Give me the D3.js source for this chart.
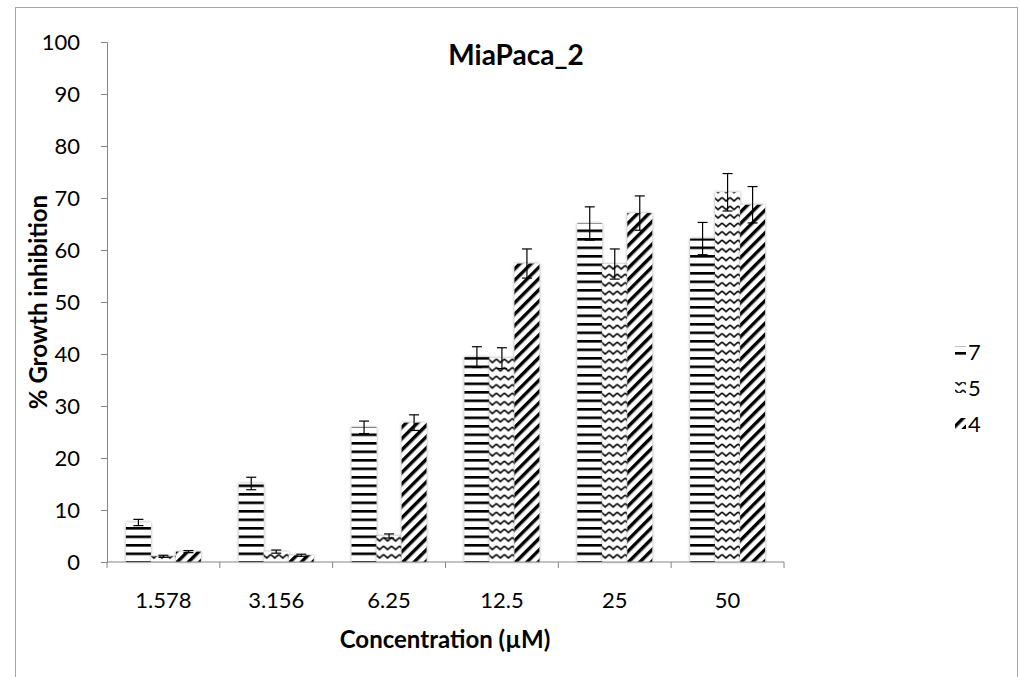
<!DOCTYPE html>
<html>
<head>
<meta charset="utf-8">
<script src="https://cdn.jsdelivr.net/npm/d3@7"></script>
<style>
  body { margin: 0; background: #fff; }
  svg text { font-family: Lato, "Open Sans", sans-serif; fill: #000; }
</style>
</head>
<body>
<svg id="chart" width="1019" height="677"></svg>
<script>
const concentrations = ['1.578', '3.156', '6.25', '12.5', '25', '50']
const seriesNames = ['7', '5', '4']
const values7 = [7.6, 15.1, 25.9, 39.4, 65.1, 62.2]
const errors7 = [0.6, 1.2, 1.2, 2.0, 3.2, 3.1]
const values5 = [1.1, 2.0, 5.0, 39.2, 57.3, 71.1]
const errors5 = [0.2, 0.3, 0.4, 2.0, 2.9, 3.6]
const values4 = [2.0, 1.3, 26.8, 57.4, 67.1, 68.7]
const errors4 = [0.2, 0.2, 1.5, 2.8, 3.3, 3.5]
const yTicks = [0, 10, 20, 30, 40, 50, 60, 70, 80, 90, 100]

const seriesValues = [values7, values5, values4]
const seriesErrors = [errors7, errors5, errors4]
const patternIds = ['pat-horiz', 'pat-wave', 'pat-diag']

const svg = d3.select('#chart')
const axisColor = '#868686'

// chart border
svg.append('rect')
    .attr('x', 15.5).attr('y', 7.5)
    .attr('width', 1002).attr('height', 700)
    .attr('fill', 'none')
    .attr('stroke', '#a6a6a6')

const defs = svg.append('defs')

// horizontal stripes
const ph = defs.append('pattern')
    .attr('id', 'pat-horiz')
    .attr('patternUnits', 'userSpaceOnUse')
    .attr('width', 8).attr('height', 8.5)
ph.append('rect').attr('width', 8).attr('height', 8.5).attr('fill', '#fff')
ph.append('rect').attr('y', 0).attr('width', 8).attr('height', 2.6).attr('fill', '#000')

// zigzag waves
const pw = defs.append('pattern')
    .attr('id', 'pat-wave')
    .attr('patternUnits', 'userSpaceOnUse')
    .attr('width', 8).attr('height', 8.5)
pw.append('rect').attr('width', 8).attr('height', 8.5).attr('fill', '#fff')
pw.append('path')
    .attr('d', 'M0,2 L4,5.5 L8,2')
    .attr('fill', 'none')
    .attr('stroke', '#000')
    .attr('stroke-width', 1.6)

// wide upward diagonal
const pd = defs.append('pattern')
    .attr('id', 'pat-diag')
    .attr('patternUnits', 'userSpaceOnUse')
    .attr('width', 8).attr('height', 8)
    .attr('patternTransform', 'rotate(45)')
pd.append('rect').attr('width', 8).attr('height', 8).attr('fill', '#fff')
pd.append('rect').attr('width', 3.4).attr('height', 8).attr('fill', '#000')

const shadow = defs.append('filter')
    .attr('id', 'shadow')
    .attr('x', '-30%').attr('y', '-10%')
    .attr('width', '160%').attr('height', '120%')
shadow.append('feDropShadow')
    .attr('dx', 0).attr('dy', 0)
    .attr('stdDeviation', 1.6)
    .attr('flood-color', '#777')
    .attr('flood-opacity', 0.7)

const x0 = d3.scaleBand()
    .domain(concentrations)
    .range([107, 784])
    .paddingInner(0.335)
    .paddingOuter(0.1675)

const x1 = d3.scaleBand()
    .domain(seriesNames)
    .range([0, x0.bandwidth()])

const y = d3.scaleLinear()
    .domain([0, 100])
    .range([562, 42])

// bars
const groups = svg.append('g')
    .selectAll('g')
    .data(concentrations)
    .enter()
    .append('g')
    .attr('transform', d => `translate(${x0(d)},0)`)

groups.selectAll('rect')
    .data((d, i) => seriesNames.map((s, k) => ({ s, k, v: seriesValues[k][i], e: seriesErrors[k][i] })))
    .enter()
    .append('rect')
    .attr('x', d => x1(d.s))
    .attr('width', x1.bandwidth())
    .attr('y', d => y(d.v))
    .attr('height', d => y(0) - y(d.v))
    .attr('fill', d => `url(#${patternIds[d.k]})`)
    .attr('filter', 'url(#shadow)')

// error bars
const err = groups.selectAll('g.err')
    .data((d, i) => seriesNames.map((s, k) => ({ s, k, v: seriesValues[k][i], e: seriesErrors[k][i] })))
    .enter()
    .append('g')
    .attr('class', 'err')
    .attr('stroke', '#000')
    .attr('stroke-width', 1.2)

err.append('line')
    .attr('x1', d => x1(d.s) + x1.bandwidth() / 2)
    .attr('x2', d => x1(d.s) + x1.bandwidth() / 2)
    .attr('y1', d => y(d.v - d.e))
    .attr('y2', d => y(d.v + d.e))
err.selectAll('line.cap')
    .data(d => [d.v - d.e, d.v + d.e].map(t => ({ s: d.s, t })))
    .enter()
    .append('line')
    .attr('class', 'cap')
    .attr('x1', d => x1(d.s) + x1.bandwidth() / 2 - 5)
    .attr('x2', d => x1(d.s) + x1.bandwidth() / 2 + 5)
    .attr('y1', d => y(d.t))
    .attr('y2', d => y(d.t))

// y axis
const yAxis = svg.append('g')
    .attr('transform', 'translate(107,0)')
    .call(d3.axisLeft(y).tickValues(yTicks).tickSize(6).tickPadding(21))
yAxis.selectAll('path, line').attr('stroke', axisColor)
yAxis.selectAll('text').style('font-size', '22px')

// x axis
const xAxis = svg.append('g')
    .attr('transform', `translate(0,${y(0)})`)
xAxis.append('line')
    .attr('x1', 107).attr('x2', 784)
    .attr('stroke', axisColor)
xAxis.selectAll('line.tick')
    .data(d3.range(concentrations.length + 1))
    .enter()
    .append('line')
    .attr('class', 'tick')
    .attr('x1', i => 107 + i * x0.step())
    .attr('x2', i => 107 + i * x0.step())
    .attr('y1', 0).attr('y2', 6)
    .attr('stroke', axisColor)
xAxis.selectAll('text')
    .data(concentrations)
    .enter()
    .append('text')
    .attr('x', d => x0(d) + x0.bandwidth() / 2)
    .attr('y', 46)
    .attr('text-anchor', 'middle')
    .style('font-size', '22px')
    .text(d => d)

// titles
svg.append('text')
    .attr('x', 516).attr('y', 65)
    .attr('text-anchor', 'middle')
    .style('font-size', '28px').style('font-weight', 'bold')
    .text('MiaPaca_2')

svg.append('text')
    .attr('x', 445).attr('y', 648)
    .attr('text-anchor', 'middle')
    .style('font-size', '24px').style('font-weight', 'bold')
    .text('Concentration (µM)')

svg.append('text')
    .attr('transform', 'translate(47,302) rotate(-90)')
    .attr('text-anchor', 'middle')
    .style('font-size', '24px').style('font-weight', 'bold')
    .text('% Growth inhibition')

// legend
const legend = svg.append('g')
    .selectAll('g')
    .data(seriesNames)
    .enter()
    .append('g')
    .attr('transform', (d, i) => `translate(955,${352 + i * 36})`)
legend.append('rect')
    .attr('x', 0).attr('y', -6)
    .attr('width', 11).attr('height', 11)
    .attr('fill', (d, i) => `url(#${patternIds[i]})`)
legend.append('text')
    .attr('x', 13).attr('y', 8)
    .style('font-size', '22px')
    .text(d => d)
</script>
</body>
</html>
